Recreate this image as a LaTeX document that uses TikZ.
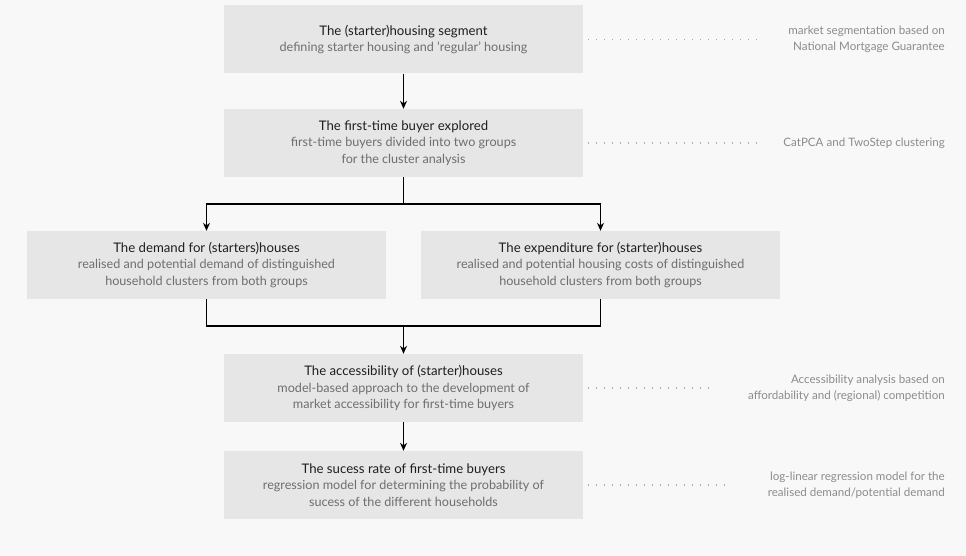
\documentclass[tikz,border=0pt]{standalone}
\usepackage{fontspec}
\setmainfont{Lato}
\usetikzlibrary{arrows.meta}
\definecolor{pagebg}{HTML}{F8F8F8}
\definecolor{boxgray}{HTML}{E6E6E6}
\definecolor{titleblack}{HTML}{1E1E1E}
\definecolor{subgray}{HTML}{6E6E6E}
\definecolor{notegray}{HTML}{8C8C8C}
\definecolor{dotgray}{HTML}{AAAAAA}
\newcommand{\stagetitle}[1]{\textcolor{titleblack}{\fontsize{13.2}{16.5}\selectfont #1}}

\begin{document}
\begin{tikzpicture}[x=1pt,y=-1pt,
    stagebox/.style={fill=boxgray, minimum width=359pt, minimum height=68pt,
      inner sep=0pt, align=center, text=subgray, font=\fontsize{12.6}{16.5}\selectfont},
    note/.style={anchor=east, align=right, text=notegray, inner sep=0pt,
      font=\fontsize{11.6}{16}\selectfont},
    flow/.style={-{Stealth[length=8pt,width=7pt]}, line width=1.1pt},
    link/.style={line width=1.1pt},
    dots/.style={dotgray, line width=1.2pt, dash pattern=on 1.2pt off 6.8pt}]
  \fill[pagebg] (0,0) rectangle (966,556);
  \useasboundingbox (0,0) rectangle (966,556);

  % stages
  \node[stagebox] (segment) at (403.5,39.5) {\stagetitle{The (starter)housing segment}\\defining starter housing and 'regular' housing};
  \node[stagebox] (buyer) at (403.5,143) {\stagetitle{The first-time buyer explored}\\first-time buyers divided into two groups\\for the cluster analysis};
  \node[stagebox] (demand) at (206.5,265) {\stagetitle{The demand for (starters)houses}\\realised and potential demand of distinguished\\household clusters from both groups};
  \node[stagebox] (expend) at (600.5,265) {\stagetitle{The expenditure for (starter)houses}\\realised and potential housing costs of distinguished\\household clusters from both groups};
  \node[stagebox] (access) at (403.5,388) {\stagetitle{The accessibility of (starter)houses}\\model-based approach to the development of\\market accessibility for first-time buyers};
  \node[stagebox] (success) at (403.5,485) {\stagetitle{The sucess rate of first-time buyers}\\regression model for determining the probability of\\sucess of the different households};

  % flow
  \coordinate (split) at (403.5,204);
  \coordinate (merge) at (403.5,326);
  \draw[flow] (segment) -- (buyer);
  \draw[link] (buyer) -- (split);
  \draw[flow] (split) -| (demand.north);
  \draw[flow] (split) -| (expend.north);
  \draw[link] (demand.south) |- (merge) -| (expend.south);
  \draw[flow] (merge) -- (access);
  \draw[flow] (access) -- (success);

  % methods
  \node[note] (segnote) at (945,39.5) {market segmentation based on\\National Mortgage Guarantee};
  \node[note] (buyernote) at (945,143) {CatPCA and TwoStep clustering};
  \node[note] (accessnote) at (945,388) {Accessibility analysis based on\\affordability and (regional) competition};
  \node[note] (successnote) at (945,485) {log-linear regression model for the\\realised demand/potential demand};
  \coordinate (segend) at (762,39.5);
  \coordinate (buyerend) at (762,143);
  \coordinate (accessend) at (715,388);
  \coordinate (successend) at (726,485);
  \draw[dots] ([xshift=5pt]segment.east) -- (segend);
  \draw[dots] ([xshift=5pt]buyer.east) -- (buyerend);
  \draw[dots] ([xshift=5pt]access.east) -- (accessend);
  \draw[dots] ([xshift=5pt]success.east) -- (successend);
\end{tikzpicture}
\end{document}
